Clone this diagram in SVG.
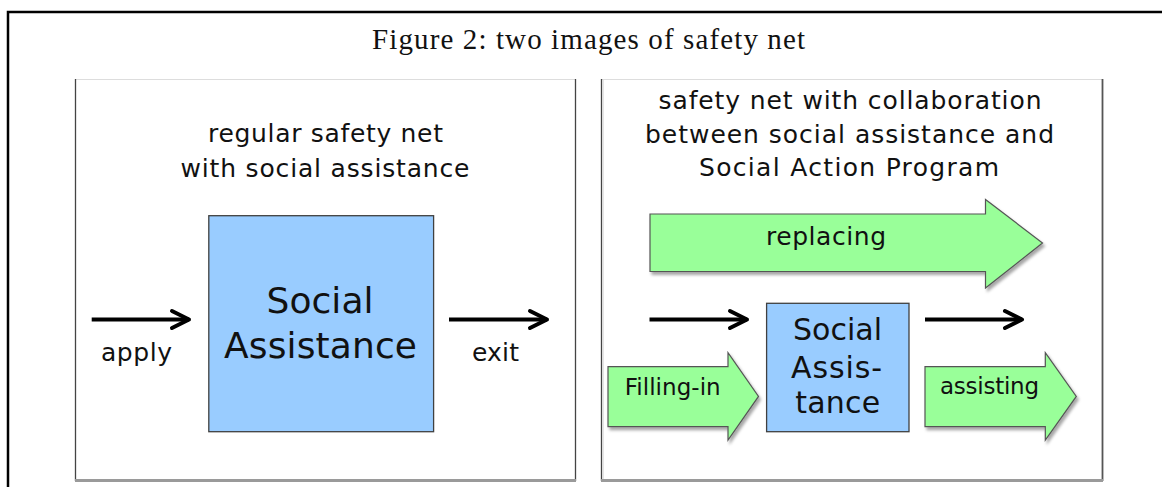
<svg xmlns="http://www.w3.org/2000/svg" width="1162" height="487" viewBox="0 0 1162 487">
  <style>
    .title { font-family: "Liberation Serif", "DejaVu Serif", serif; font-size: 29px; fill: #111; }
    .t { font-family: "DejaVu Sans", "Liberation Sans", sans-serif; fill: #111; }
    .head { font-size: 25px; text-anchor: middle; }
    .big { font-size: 36px; text-anchor: middle; }
    .mid { font-size: 30px; text-anchor: middle; }
    .lbl { font-size: 25px; }
    .sml { font-size: 23px; }
    .box { fill: #99CCFF; stroke: #404040; stroke-width: 1.3; }
    .green { fill: #99FF99; stroke: #555555; stroke-width: 1.2; filter: url(#shadow); }
    .flow { stroke: #000; stroke-width: 4; fill: none; marker-end: url(#chev); }
    .panel { fill: #ffffff; }
  </style>
  <defs>
    <marker id="chev" markerUnits="userSpaceOnUse" markerWidth="24" markerHeight="24" viewBox="-2 -2 24 24" refX="17" refY="8.5" orient="auto" overflow="visible">
      <path d="M0,0 L17,8.5 L0,17" fill="none" stroke="#000" stroke-width="4" stroke-linejoin="round" stroke-linecap="round"/>
    </marker>
    <filter id="shadow" x="-10%" y="-10%" width="130%" height="140%">
      <feDropShadow dx="2" dy="3" stdDeviation="1.5" flood-color="#000" flood-opacity="0.35"/>
    </filter>
  </defs>

  <rect x="0" y="0" width="1162" height="487" fill="#ffffff"/>
  <!-- outer frame -->
  <rect x="8" y="12" width="1200" height="520" fill="none" stroke="#000" stroke-width="2.5"/>

  <text class="title" x="372" y="49" textLength="433" lengthAdjust="spacing">Figure 2: two images of safety net</text>

  <!-- left panel -->
  <g id="panel-left">
    <rect class="panel" x="75" y="79" width="500" height="401"/>
    <line x1="75" y1="79.5" x2="575" y2="79.5" stroke="#dddddd" stroke-width="1"/>
    <line x1="75.5" y1="79" x2="75.5" y2="481" stroke="#444444" stroke-width="1.3"/>
    <line x1="575.5" y1="79" x2="575.5" y2="481" stroke="#444444" stroke-width="1.3"/>
    <line x1="75" y1="480.5" x2="576" y2="480.5" stroke="#9a9a9a" stroke-width="3"/>
    <text class="t head" x="325.5" y="142" textLength="235" lengthAdjust="spacing">regular safety net</text>
    <text class="t head" x="325" y="177" textLength="289" lengthAdjust="spacing">with social assistance</text>
  </g>

  <!-- right panel -->
  <g id="panel-right">
    <rect class="panel" x="601" y="79" width="501" height="401"/>
    <line x1="601" y1="79.5" x2="1102" y2="79.5" stroke="#dddddd" stroke-width="1"/>
    <line x1="601.5" y1="79" x2="601.5" y2="481" stroke="#444444" stroke-width="1.3"/>
    <line x1="603" y1="80" x2="603" y2="479" stroke="#dddddd" stroke-width="1.5"/>
    <line x1="1102.5" y1="79" x2="1102.5" y2="481" stroke="#555555" stroke-width="1.8"/>
    <line x1="601" y1="480.5" x2="1103" y2="480.5" stroke="#9a9a9a" stroke-width="3"/>
    <text class="t head" x="850" y="109" textLength="383" lengthAdjust="spacing">safety net with collaboration</text>
    <text class="t head" x="849.5" y="143" textLength="409" lengthAdjust="spacing">between social assistance and</text>
    <text class="t head" x="849" y="176" textLength="300" lengthAdjust="spacing">Social Action Program</text>
  </g>

  <!-- nodes -->
  <g id="node-sa-left">
    <rect class="box" x="208.8" y="215.7" width="224.8" height="216"/>
    <text class="t big" x="320" y="313" textLength="107" lengthAdjust="spacing">Social</text>
    <text class="t big" x="320.5" y="358" textLength="193" lengthAdjust="spacing">Assistance</text>
  </g>

  <g id="node-replacing">
    <polygon class="green" points="650,214 985.5,214 985.5,199.5 1042.5,243 985.5,288 985.5,271.5 650,271.5"/>
    <text class="t lbl" x="826" y="245" text-anchor="middle" textLength="120" lengthAdjust="spacing">replacing</text>
  </g>

  <g id="node-sa-right">
    <rect class="box" x="766.6" y="303.3" width="142.4" height="128.4"/>
    <text class="t mid" x="837.5" y="340" textLength="89" lengthAdjust="spacing">Social</text>
    <text class="t mid" x="836.5" y="378" textLength="91" lengthAdjust="spacing">Assis-</text>
    <text class="t mid" x="837.7" y="413" textLength="85" lengthAdjust="spacing">tance</text>
  </g>

  <g id="node-filling-in">
    <polygon class="green" points="608,366.7 728,366.7 728,352.7 758.5,396.4 728,440 728,426.7 608,426.7"/>
    <text class="t sml" x="624.7" y="395" textLength="96" lengthAdjust="spacing">Filling-in</text>
  </g>

  <g id="node-assisting">
    <polygon class="green" points="925,366.7 1045.3,366.7 1045.3,352.7 1076.3,396.4 1045.3,440 1045.3,426.7 925,426.7"/>
    <text class="t sml" x="940" y="394" textLength="99" lengthAdjust="spacing">assisting</text>
  </g>

  <!-- connectors -->
  <g id="connectors">
    <line class="flow" x1="91.7" y1="319.5" x2="189" y2="319.5"/>
    <line class="flow" x1="449" y1="319.5" x2="547" y2="319.5"/>
    <line class="flow" x1="649.5" y1="319.5" x2="747" y2="319.5"/>
    <line class="flow" x1="925" y1="319.5" x2="1022" y2="319.5"/>
  </g>

  <g id="labels">
    <text class="t lbl" x="101" y="361" textLength="71" lengthAdjust="spacing">apply</text>
    <text class="t lbl" x="472" y="361" textLength="47" lengthAdjust="spacing">exit</text>
  </g>
</svg>
